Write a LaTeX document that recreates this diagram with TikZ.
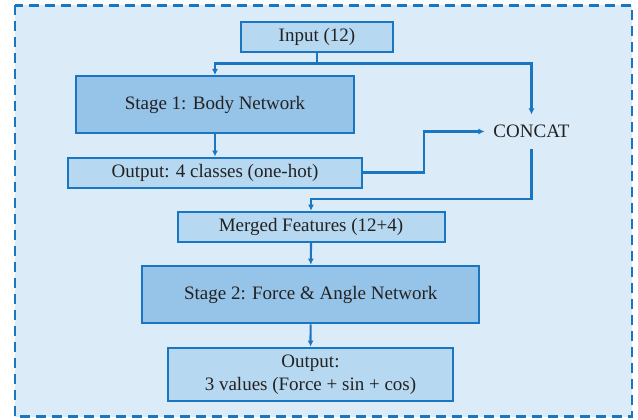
\documentclass[tikz,border=0pt]{standalone}
\usepackage{fontspec}
\setmainfont{Liberation Serif}
\usetikzlibrary{arrows.meta}
\definecolor{panel}{HTML}{DCEBF8}
\definecolor{boxlight}{HTML}{B7D8F1}
\definecolor{boxdark}{HTML}{96C3E8}
\definecolor{edge}{HTML}{1B76C2}
\definecolor{ink}{HTML}{222222}
\tikzset{
  base/.style={draw=edge, line width=2pt, text=ink, font=\fontsize{19}{23}\selectfont, inner sep=0pt, align=center},
  smallbox/.style={base, fill=boxlight},
  bigbox/.style={base, fill=boxdark},
  conn/.style={draw=edge, line width=2.2pt},
  arr/.style={conn, -{Latex[length=6pt,width=6pt]}},
  frame/.style={draw=edge, line width=2.4pt, dash pattern=on 10pt off 6pt, fill=panel}
}
\begin{document}
\begin{tikzpicture}[x=1pt,y=-1pt]
\useasboundingbox (0,0) rectangle (638,420);
\draw[frame] (15,5.5) rectangle (632,416.5);

\node[smallbox, minimum width=152pt, minimum height=30pt] (in) at (317,37) {Input (12)};
\node[bigbox, minimum width=278pt, minimum height=57pt] (s1) at (215,104.5) {Stage 1: Body Network};
\node[smallbox, minimum width=294pt, minimum height=30pt] (o1) at (215,172.5) {Output: 4 classes (one-hot)};
\node[base, draw=none, minimum height=32pt, inner xsep=8pt] (cc) at (531.5,131.5) {CONCAT};
\node[smallbox, minimum width=267pt, minimum height=30pt] (m) at (311,226.7) {Merged Features (12+4)};
\node[bigbox, minimum width=337pt, minimum height=57.6pt] (s2) at (310.7,294.5) {Stage 2: Force \& Angle Network};
\node[smallbox, minimum width=285.6pt, minimum height=53.3pt] (o2) at (310.5,374.3) {Output:\\3 values (Force + sin + cos)};

\coordinate (split) at (317,63.5);
\coordinate (join) at (531.5,199);
\coordinate (bend) at (424,172.5);

\draw[conn] (in.south) -- (split);
\draw[arr] (split) -| (s1.north);
\draw[arr] (split) -| (cc.north);
\draw[arr] (s1) -- (o1);
\draw[arr] (o1.east) -- (bend) |- (cc.west);
\draw[arr] (cc.south) -- (join) -| (m.north);
\draw[arr] (m) -- (s2);
\draw[arr] (s2) -- (o2);
\end{tikzpicture}
\end{document}
